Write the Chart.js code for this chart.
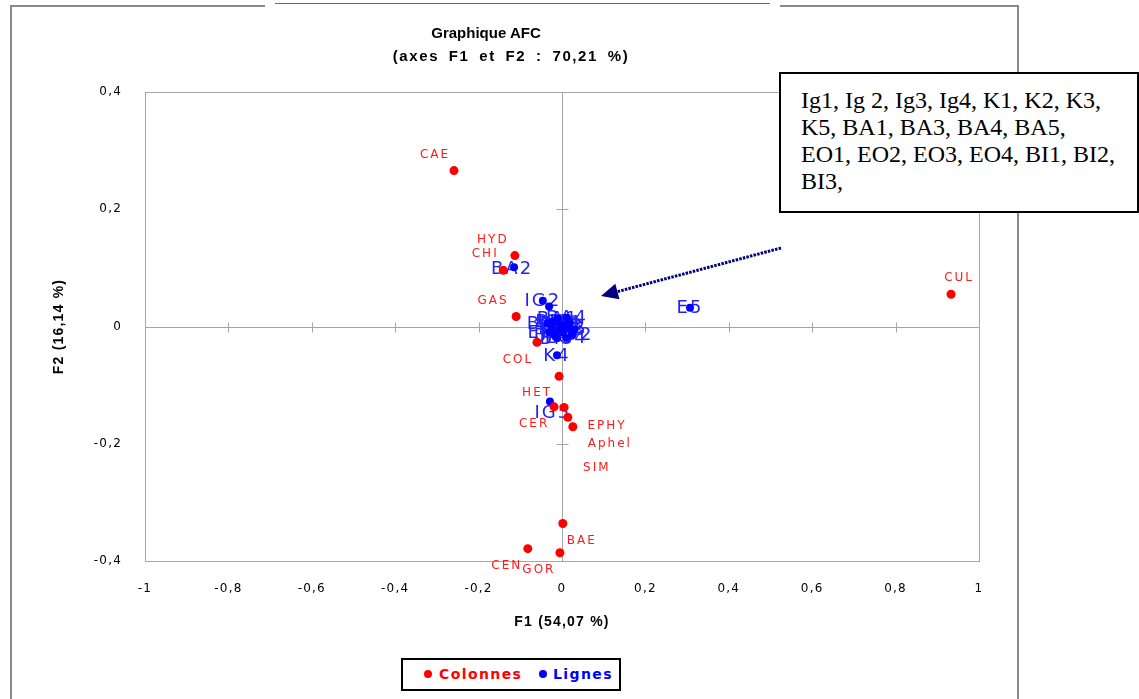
<!DOCTYPE html>
<html>
<head>
<meta charset="utf-8">
<script src="https://cdn.jsdelivr.net/npm/chart.js@4.4.1/dist/chart.umd.min.js"></script>
<style>
  html, body { margin: 0; padding: 0; background: #fff; width: 1139px; height: 699px; overflow: hidden; }
  #wrap { position: relative; width: 1139px; height: 699px; }
  .frame { position: absolute; background: #8a8a8a; }
  #c { position: absolute; left: 0; top: 0; z-index: 2; }
  .title { position: absolute; text-align: center; font-family: "Liberation Sans", Arial, sans-serif; font-weight: bold; font-size: 15px; line-height: 18px; color: #000; z-index: 3; white-space: pre; }
  #note { position: absolute; left: 779px; top: 72px; border: 2px solid #000; background: #fff; z-index: 4;
          font-family: "Liberation Serif", "Times New Roman", serif; font-size: 24px; line-height: 27px; color: #000; padding: 13px 0 0 20px; box-sizing: border-box; width: 360px; height: 141px; }
  #legend { position: absolute; left: 401px; top: 658px; width: 220px; height: 33px; border: 2px solid #000; box-sizing: border-box; background: #fff; z-index: 4;
            font-family: "DejaVu Sans", sans-serif; font-weight: bold; font-size: 14px; letter-spacing: 1.4px; }
  #legend .dot { position: absolute; width: 8px; height: 8px; border-radius: 50%; top: 10px; }
  #legend .lab { position: absolute; top: 5px; line-height: 18px; }
  #arrow { position: absolute; left: 0; top: 0; z-index: 3; pointer-events: none; }
</style>
</head>
<body>
<div id="wrap">
  <div class="frame" style="left:10px; top:5px; width:255px; height:2px;"></div>
  <div class="frame" style="left:275px; top:3px; width:495px; height:1px; background:#6a6a6a;"></div>
  <div class="frame" style="left:780px; top:5px; width:239px; height:2px;"></div>
  <div class="frame" style="left:10px; top:5px; width:2px; height:700px;"></div>
  <div class="frame" style="left:1017px; top:5px; width:2px; height:700px;"></div>

  <div class="title" id="t1" style="left:0; width:972px; top:24px;">Graphique AFC</div>
  <div class="title" id="t2" style="left:0; width:1022px; top:47px; letter-spacing:1.6px; word-spacing:4px;">(axes F1 et F2 : 70,21 %)</div>

  <canvas id="c" width="1139" height="699"></canvas>

  <svg id="arrow" width="1139" height="699">
    <line x1="781" y1="248" x2="616" y2="292" stroke="#000080" stroke-width="3" stroke-dasharray="2.5 1.2"/>
    <polygon points="601,296 619.5,299.2 615.3,283.8" fill="#000080"/>
  </svg>

  <div id="note">Ig1, Ig 2, Ig3, Ig4, K1, K2, K3,<br>K5, BA1, BA3, BA4, BA5,<br>EO1, EO2, EO3, EO4, BI1, BI2,<br>BI3,</div>

  <div id="legend">
    <span class="dot" style="left:21px; background:#ff0000;"></span>
    <span class="lab" style="left:36px; color:#ff0000;">Colonnes</span>
    <span class="dot" style="left:136px; background:#0000ff;"></span>
    <span class="lab" style="left:150px; color:#0000ff;">Lignes</span>
  </div>
</div>

<script>
// ---- Data ----
const colNames = ['CAE', 'HYD', 'CHI', 'GAS', 'COL', 'HET', 'CER', 'EPHY', 'Aphel', 'SIM', 'BAE', 'CEN', 'GOR', 'CUL'];
const colF1 = [-0.259, -0.113, -0.141, -0.110, -0.060, -0.007, -0.019, 0.005, 0.014, 0.026, 0.002, -0.082, -0.005, 0.933];
const colF2 = [0.266, 0.121, 0.096, 0.017, -0.027, -0.085, -0.137, -0.138, -0.155, -0.171, -0.336, -0.379, -0.386, 0.055];

const rowNames = ['BA2', 'IG2', '', 'K4', 'IG5', 'E5',
  'IG1', 'IG3', 'IG4', 'K1', 'K2', 'K3', 'K5', 'BA1', 'BA3', 'BA4', 'BA5', 'EO1', 'EO2', 'EO3', 'EO4', 'BI1', 'BI2', 'BI3'];
const rowF1 = [-0.115, -0.046, -0.031, -0.012, -0.029, 0.307,
  -0.014, 0.010, -0.005, 0.019, -0.024, 0.002, 0.029, -0.010, -0.034, 0.012, -0.017, -0.002, 0.024, -0.031, 0.010, -0.022, 0.017, -0.012];
const rowF2 = [0.101, 0.044, 0.034, -0.049, -0.128, 0.032,
  0.009, 0.002, -0.005, 0.007, -0.002, -0.010, -0.005, 0.014, 0.005, 0.015, -0.015, 0.003, -0.014, -0.010, -0.019, 0.009, -0.002, -0.020];

const xTickLabels = ['-1', '-0,8', '-0,6', '-0,4', '-0,2', '0', '0,2', '0,4', '0,6', '0,8', '1'];
const yTickLabels = ['-0,4', '-0,2', '0', '0,2', '0,4'];

// ---- Label placement (pixel offsets of label centre from point) ----
const labelOffsets = {
  CAE: [-19, -16], HYD: [-22, -16], CHI: [-18, -16], GAS: [-23, -16], COL: [-19, 18],
  HET: [-22, 17], CER: [-20, 17], EPHY: [43, 18], Aphel: [42, 27], SIM: [24, 41],
  BAE: [19, 17], CEN: [-21, 17], GOR: [-21, 17], CUL: [8, -16],
  BA2: [-2, 2], IG5: [3, 12]
};

const toPoints = (xs, ys) => xs.map((v, i) => ({ x: v, y: ys[i] }));

const decor = {
  id: 'decor',
  beforeDraw(chart) { chart.ctx.letterSpacing = '1.2px'; },
  beforeDatasetsDraw(chart) {
    const { ctx, chartArea: a, scales: { x, y } } = chart;
    ctx.save();
    ctx.letterSpacing = '0px';
    ctx.strokeStyle = '#a6a6a6';
    ctx.lineWidth = 1;
    ctx.strokeRect(Math.round(a.left) + 0.5, Math.round(a.top) + 0.5, Math.round(a.right - a.left), Math.round(a.bottom - a.top));
    const x0 = Math.round(x.getPixelForValue(0)) + 0.5;
    const y0 = Math.round(y.getPixelForValue(0)) + 0.5;
    ctx.beginPath();
    ctx.moveTo(a.left, y0); ctx.lineTo(a.right, y0);
    ctx.moveTo(x0, a.top); ctx.lineTo(x0, a.bottom);
    x.ticks.forEach(t => {
      if (Math.abs(t.value) < 1e-9 || t.value <= x.min || t.value >= x.max) return;
      const px = Math.round(x.getPixelForValue(t.value)) + 0.5;
      ctx.moveTo(px, y0 - 5); ctx.lineTo(px, y0 + 5);
    });
    y.ticks.forEach(t => {
      if (Math.abs(t.value) < 1e-9 || t.value <= y.min || t.value >= y.max) return;
      const py = Math.round(y.getPixelForValue(t.value)) + 0.5;
      ctx.moveTo(x0 - 6, py); ctx.lineTo(x0 + 6, py);
    });
    ctx.stroke();

    ctx.textAlign = 'center';
    ctx.textBaseline = 'middle';
    chart.data.datasets.forEach((ds, di) => {
      const meta = chart.getDatasetMeta(di);
      ctx.font = ds.labelFont;
      ctx.fillStyle = ds.labelColor;
      ctx.letterSpacing = ds.labelSpacing;
      meta.data.forEach((el, i) => {
        const name = ds.names[i];
        if (!name) return;
        const off = labelOffsets[name] || ds.labelOffset;
        ctx.fillText(name, el.x + off[0], el.y + off[1]);
      });
    });
    ctx.restore();
  }
};

new Chart(document.getElementById('c'), {
  type: 'scatter',
  data: {
    datasets: [
      {
        label: 'Lignes', data: toPoints(rowF1, rowF2), names: rowNames,
        backgroundColor: '#0000ff', borderWidth: 0, pointRadius: 4, pointHoverRadius: 4, order: 2,
        labelFont: '18px "DejaVu Sans"', labelColor: '#1f1fff', labelSpacing: '2px', labelOffset: [0, 1]
      },
      {
        label: 'Colonnes', data: toPoints(colF1, colF2), names: colNames,
        backgroundColor: '#ff0000', borderWidth: 0, pointRadius: 4.5, pointHoverRadius: 4.5, order: 1,
        labelFont: '12px "DejaVu Sans"', labelColor: '#ff1a1a', labelSpacing: '2px', labelOffset: [-20, -16]
      }
    ]
  },
  options: {
    responsive: false,
    animation: false,
    events: [],
    layout: { padding: { top: 92, left: 0, right: 160, bottom: 0 } },
    plugins: { legend: { display: false }, tooltip: { enabled: false }, title: { display: false } },
    scales: {
      x: {
        type: 'linear', position: 'bottom', min: -1, max: 1,
        ticks: { stepSize: 0.2, padding: 21, autoSkip: false, maxRotation: 0, color: '#000',
                 font: { family: 'DejaVu Sans', size: 12 }, callback: (v, i) => xTickLabels[i] },
        grid: { display: false, drawTicks: false },
        border: { display: false },
        title: { display: true, text: 'F1 (54,07 %)', color: '#000',
                 font: { family: 'Liberation Sans', size: 14, weight: 'bold' }, padding: { top: 0, bottom: 68 } },
        afterFit(s) { s.height = 138; }
      },
      y: {
        type: 'linear', position: 'left', min: -0.4, max: 0.4,
        ticks: { stepSize: 0.2, padding: 23, autoSkip: false, color: '#000',
                 font: { family: 'DejaVu Sans', size: 12 }, callback: (v, i) => yTickLabels[i] },
        grid: { display: false, drawTicks: false },
        border: { display: false },
        title: { display: true, text: 'F2 (16,14 %)', color: '#000',
                 font: { family: 'Liberation Sans', size: 14, weight: 'bold' }, padding: { top: 51, bottom: 0 } },
        afterFit(s) { s.width = 145; }
      }
    }
  },
  plugins: [decor]
});
</script>
</body>
</html>
